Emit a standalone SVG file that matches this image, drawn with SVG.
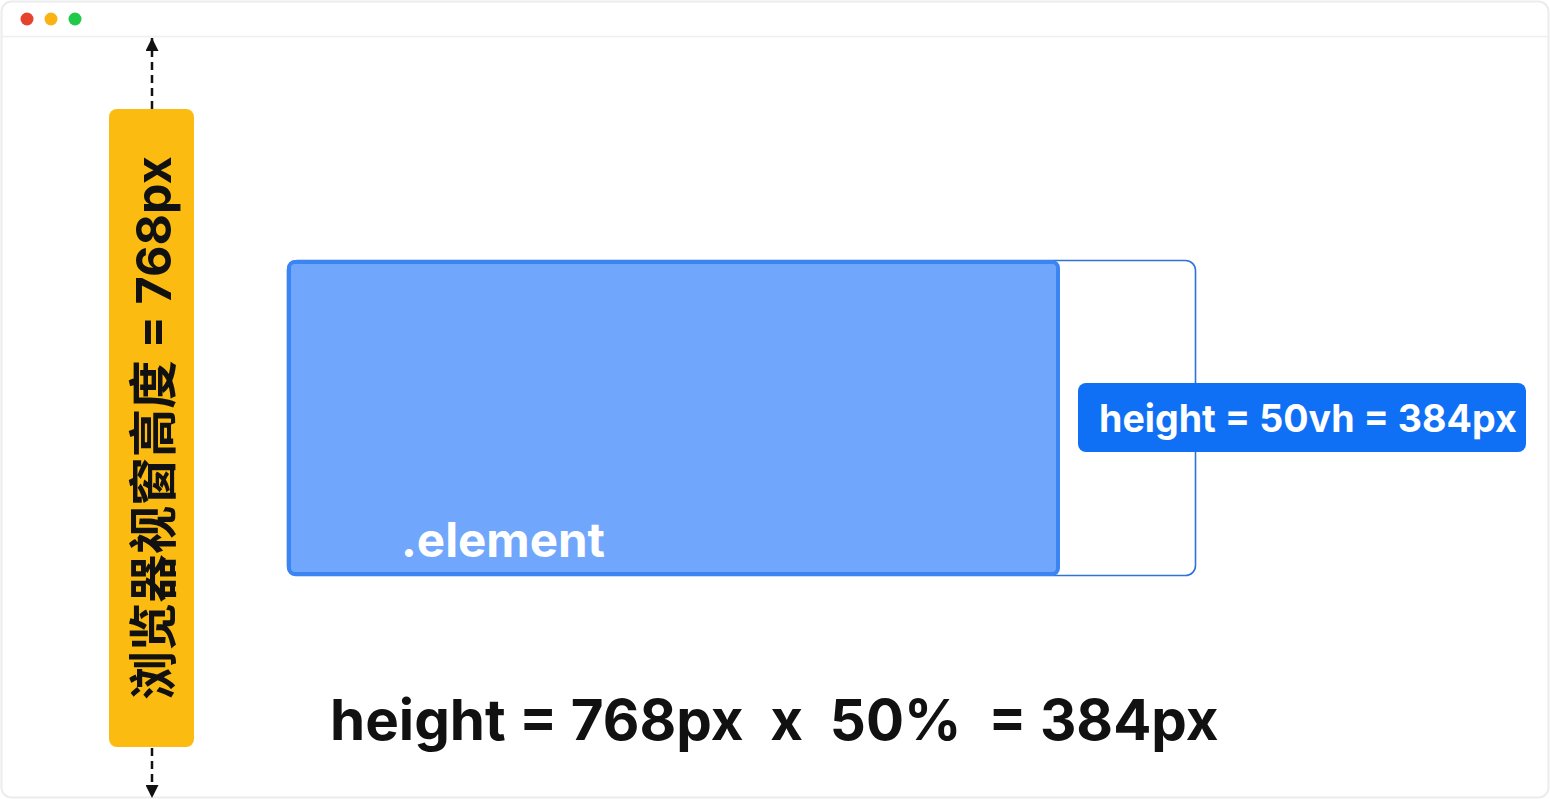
<svg xmlns="http://www.w3.org/2000/svg" width="1550" height="799" viewBox="0 0 1550 799">
<defs>
<marker id="ah" viewBox="0 0 12 12" refX="12" refY="6" markerWidth="13" markerHeight="13" markerUnits="userSpaceOnUse" orient="auto">
<path d="M0,0 L12,6 L0,12 z" fill="#111"/>
</marker>
<style>
.t{font-family:Inter,"Noto Sans CJK SC",sans-serif;font-weight:700}
.dash{stroke:#111;stroke-width:2.5;stroke-dasharray:8,5;fill:none}
</style>
</defs>
<rect x="0" y="0" width="1550" height="799" fill="#fff"/>
<rect x="1.5" y="1.5" width="1547" height="796" rx="10" fill="#fff" stroke="#ececec" stroke-width="2"/>
<line x1="2" y1="36.5" x2="1548" y2="36.5" stroke="#eeeeee" stroke-width="1.5"/>
<g id="window-dots">
<circle cx="27" cy="19" r="6.5" fill="#E5432D"/>
<circle cx="51" cy="19" r="6.5" fill="#FBB314"/>
<circle cx="75" cy="19" r="6.5" fill="#20C94A"/>
</g>
<g id="connectors">
<line class="dash" x1="152" y1="109" x2="152" y2="38" marker-end="url(#ah)"/>
<line class="dash" x1="152" y1="748" x2="152" y2="798" marker-end="url(#ah)"/>
</g>
<g id="viewport-label">
<rect x="109" y="109" width="85" height="638" rx="8" fill="#FBBB10"/>
<text class="t" transform="translate(171,428) rotate(-90)" text-anchor="middle" font-size="48.5" fill="#111">浏览器视窗高度 = 768px</text>
</g>
<g id="outline-box">
<rect x="287.5" y="260.5" width="908" height="315" rx="10" fill="none" stroke="#2F72D8" stroke-width="1.6"/>
</g>
<g id="element">
<rect x="289" y="262" width="769" height="312" rx="6" fill="#70A7FC" stroke="#3B84F4" stroke-width="4"/>
<text class="t" x="401" y="557" font-size="47.5" fill="#fff" font-weight="600">.element</text>
</g>
<g id="height-label">
<rect x="1078" y="383" width="448" height="69" rx="8" fill="#1070F5"/>
<text class="t" x="1099" y="432" font-size="37.6" fill="#fff" font-weight="600">height = 50vh = 384px</text>
</g>
<g id="formula">
<text class="t" x="330" y="740" font-size="56.5" fill="#111" xml:space="preserve">height = 768px  x  50%  = 384px</text>
</g>
</svg>
